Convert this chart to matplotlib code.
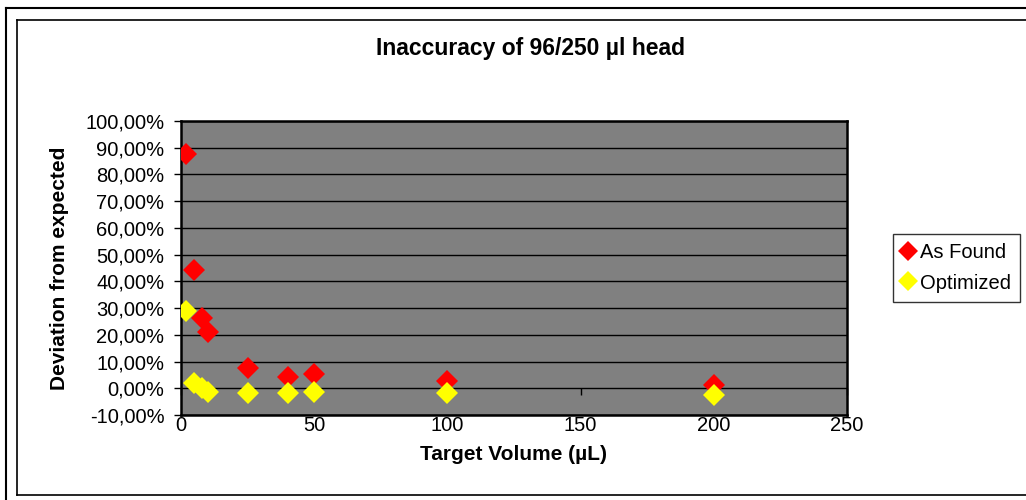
import numpy as np
import matplotlib.pyplot as plt
from matplotlib.lines import Line2D
from matplotlib.ticker import FuncFormatter, MultipleLocator

plt.rcParams['font.family'] = ['Liberation Sans', 'DejaVu Sans']

# data (target volume in uL, deviation in %)
volumes = [2, 5, 8, 10, 25, 40, 50, 100, 200]
as_found = [87.7, 44.3, 26.2, 21.2, 7.5, 4.3, 5.2, 2.7, 1.2]
optimized = [28.9, 1.9, 0.0, -1.3, -1.9, -1.6, -1.4, -1.9, -2.5]

fig = plt.figure(figsize=(10.26, 5), dpi=100)
ax = fig.add_axes([181/1026, 1-415/500, 666/1026, 294/500])
ax.set_facecolor('#808080')

ax.plot(volumes, as_found, 'D', color='#ff0000', markersize=11.5, markeredgewidth=0,
        linestyle='none', label='As Found', zorder=3)
ax.plot(volumes, optimized, 'D', color='#ffff00', markersize=11.5, markeredgewidth=0,
        linestyle='none', label='Optimized', zorder=4)

ax.set_xlim(0, 250)
ax.set_ylim(-10, 100)
ax.xaxis.set_major_locator(MultipleLocator(50))
ax.yaxis.set_major_locator(MultipleLocator(10))
ax.yaxis.set_major_formatter(FuncFormatter(lambda v, p: f"{v:.2f}%".replace('.', ',')))
ax.grid(axis='y', color='black', linewidth=1)
ax.set_axisbelow(True)
ax.tick_params(axis='y', direction='out', length=5, width=1, labelsize=14.5, pad=7)
ax.tick_params(axis='x', length=0, labelsize=14.5, pad=1)
for s in ax.spines.values():
    s.set_linewidth(1.8)
    s.set_color('black')

# x ticks sit on the zero line
sec = ax.secondary_xaxis(10/110)
sec.spines['bottom'].set_visible(False)
sec.tick_params(direction='out', length=5, width=1, labelbottom=False)
sec.xaxis.set_major_locator(MultipleLocator(50))

ax.set_xlabel('Target Volume (µL)', fontsize=15, fontweight='bold', va='center')
ax.set_ylabel('Deviation from expected', fontsize=15, fontweight='bold', va='center')
ax.xaxis.set_label_coords((514-181)/666, (415-455)/294)
ax.yaxis.set_label_coords((60-181)/666, (415-268)/294)
fig.text(531/1026, 1-48/500, 'Inaccuracy of 96/250 µl head', fontsize=16.5,
         fontweight='bold', ha='center', va='center')

leg = fig.legend(loc='center left', bbox_to_anchor=(883/1026, 1-268/500), fontsize=14.5,
                 frameon=True, fancybox=False, edgecolor='black', handlelength=0.6,
                 handletextpad=0.3, borderpad=0.45, labelspacing=0.55, markerscale=0.85)
leg.get_frame().set_linewidth(1)

# chart frame lines
fig.add_artist(Line2D([6/1026, 6/1026], [0, 1-8/500], color='black', lw=1.5))
fig.add_artist(Line2D([6/1026, 1], [1-8/500, 1-8/500], color='black', lw=1.5))
fig.add_artist(Line2D([17/1026, 17/1026], [1-495/500, 1-20/500], color='black', lw=1.2))
fig.add_artist(Line2D([17/1026, 1], [1-20/500, 1-20/500], color='black', lw=1.2))
fig.add_artist(Line2D([17/1026, 1], [1-495/500, 1-495/500], color='black', lw=1.2))

fig.savefig('out.png', dpi=100, facecolor='white')
